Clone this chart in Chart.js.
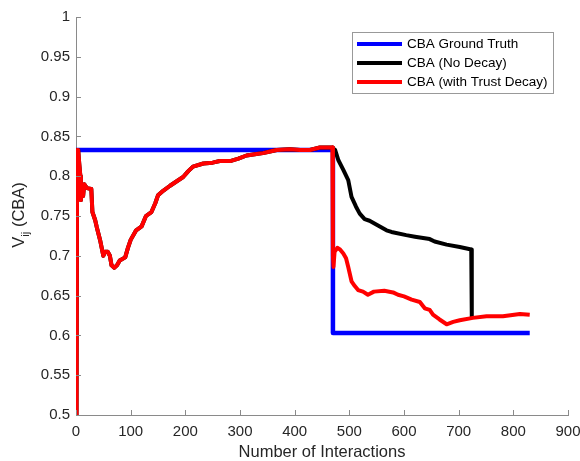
<!DOCTYPE html>
<html>
<head>
<meta charset="utf-8">
<script src="https://cdn.jsdelivr.net/npm/chart.js@4/dist/chart.umd.min.js"></script>
<style>
  html, body { margin: 0; padding: 0; background: #fff; }
</style>
</head>
<body>
<canvas id="myChart" width="580" height="461"></canvas>
<script>
const seriesNames = ['CBA Ground Truth', 'CBA (No Decay)', 'CBA (with Trust Decay)'];

// ground truth
const truthX = [0, 470, 470, 830];
const truthY = [0.833, 0.833, 0.603, 0.603];

// with trust decay
const decayX = [1, 2, 4, 6, 8, 9, 11, 13, 15, 20, 28, 30, 35, 38, 44, 50, 53, 58, 62, 65, 70, 75, 80, 90, 95,
  100, 110, 120, 128, 138, 145, 150, 160, 172, 185, 196, 205, 214, 233, 250, 263, 282, 297, 312, 330, 342,
  355, 367, 391, 410, 428, 446, 467, 469,
  470, 471, 473, 478, 483, 489, 494, 498, 504, 510, 516, 525, 534, 545, 564, 580, 589, 600, 614, 629, 638,
  647, 653, 665, 678, 690, 702, 726, 751, 781, 812, 830];
const decayY = [0.5, 0.833, 0.833, 0.815, 0.80, 0.77, 0.79, 0.775, 0.79, 0.785, 0.784, 0.755, 0.745, 0.736, 0.72, 0.70, 0.705, 0.705, 0.70, 0.688, 0.685, 0.688, 0.694, 0.698, 0.71,
  0.72, 0.732, 0.737, 0.75, 0.755, 0.766, 0.776, 0.782, 0.788, 0.794, 0.799, 0.806, 0.812, 0.816, 0.817, 0.819, 0.819, 0.822, 0.826, 0.828, 0.829,
  0.831, 0.833, 0.834, 0.833, 0.833, 0.836, 0.836, 0.836,
  0.70, 0.686, 0.705, 0.71, 0.708, 0.703, 0.697, 0.686, 0.668, 0.662, 0.657, 0.655, 0.651, 0.655, 0.656, 0.654, 0.651, 0.649, 0.645, 0.642, 0.634,
  0.632, 0.626, 0.62, 0.614, 0.617, 0.619, 0.622, 0.624, 0.624, 0.627, 0.626];

// no decay: same as above until the change, then its own tail
const noDecayTailX = [470, 474, 480, 489, 498, 504, 512, 519, 528, 537, 550, 568, 577, 604, 620, 647, 656, 678, 702, 723, 724];
const noDecayTailY = [0.835, 0.833, 0.82, 0.808, 0.795, 0.774, 0.762, 0.753, 0.746, 0.744, 0.739, 0.732, 0.73, 0.726, 0.724, 0.721, 0.718, 0.714, 0.711, 0.708, 0.623];

const xMin = 0, xMax = 900, xStep = 100;
const yMin = 0.5, yMax = 1, yStep = 0.05;

const FONT = "'Liberation Sans', Arial, Helvetica, sans-serif";
const axisColor = '#8a8a8a';
const textColor = '#262626';

function toPoints(xs, ys) {
  const pts = [];
  for (let i = 0; i < xs.length; i++) {
    pts.push({ x: xs[i], y: ys[i] });
  }
  return pts;
}

const headCount = decayX.indexOf(470);
const noDecayX = decayX.slice(0, headCount).concat(noDecayTailX);
const noDecayY = decayY.slice(0, headCount).concat(noDecayTailY);

const extras = {
  id: 'extras',
  afterDraw(chart) {
    const ctx = chart.ctx;
    const a = chart.chartArea;
    const xs = chart.scales.x;
    const ys = chart.scales.y;
    ctx.save();

    // tick marks pointing into the plot
    ctx.strokeStyle = axisColor;
    ctx.lineWidth = 1;
    ctx.beginPath();
    xs.ticks.forEach(t => {
      const p = Math.round(xs.getPixelForValue(t.value)) + 0.5;
      ctx.moveTo(p, a.bottom);
      ctx.lineTo(p, a.bottom - 5);
    });
    ys.ticks.forEach(t => {
      const p = Math.round(ys.getPixelForValue(t.value)) + 0.5;
      ctx.moveTo(a.left, p);
      ctx.lineTo(a.left + 5, p);
    });
    ctx.stroke();

    // x title
    ctx.fillStyle = textColor;
    ctx.font = '16.5px ' + FONT;
    ctx.textAlign = 'center';
    ctx.textBaseline = 'middle';
    ctx.fillText('Number of Interactions', (a.left + a.right) / 2, 452);

    // y title with subscript
    ctx.translate(24, (a.top + a.bottom) / 2 - 1);
    ctx.rotate(-Math.PI / 2);
    ctx.textAlign = 'left';
    ctx.textBaseline = 'alphabetic';
    ctx.font = '16.5px ' + FONT;
    const w1 = ctx.measureText('V').width;
    const w3 = ctx.measureText(' (CBA)').width;
    ctx.font = '11.5px ' + FONT;
    const w2 = ctx.measureText('ij').width;
    let sx = -(w1 + w2 + w3) / 2;
    ctx.font = '16.5px ' + FONT;
    ctx.fillText('V', sx, 0);
    ctx.font = '11.5px ' + FONT;
    ctx.fillText('ij', sx + w1, 5);
    ctx.font = '16.5px ' + FONT;
    ctx.fillText(' (CBA)', sx + w1 + w2, 0);
    ctx.setTransform(1, 0, 0, 1, 0, 0);

    // legend box inside the plot
    const bx = 352, by = 32, bw = 201, bh = 61;
    ctx.fillStyle = '#fff';
    ctx.fillRect(bx, by, bw, bh);
    ctx.strokeStyle = '#999';
    ctx.lineWidth = 1;
    ctx.strokeRect(bx + 0.5, by + 0.5, bw, bh);
    ctx.font = '13.5px ' + FONT;
    ctx.textAlign = 'left';
    ctx.textBaseline = 'middle';
    chart.data.datasets.forEach((ds, i) => {
      const yy = by + 12 + i * 19;
      ctx.strokeStyle = ds.borderColor;
      ctx.lineWidth = 4;
      ctx.beginPath();
      ctx.moveTo(bx + 5, yy);
      ctx.lineTo(bx + 50, yy);
      ctx.stroke();
      ctx.fillStyle = '#000';
      ctx.fillText(ds.label, bx + 55, yy + 0.5);
    });

    ctx.restore();
  }
};

const ctx = document.getElementById('myChart');

new Chart(ctx, {
  type: 'line',
  data: {
    datasets: [{
      label: seriesNames[0],
      data: toPoints(truthX, truthY),
      borderColor: '#0000ff',
      borderWidth: 4.5,
      order: 3
    }, {
      label: seriesNames[1],
      data: toPoints(noDecayX, noDecayY),
      borderColor: '#000000',
      borderWidth: 4,
      order: 2
    }, {
      label: seriesNames[2],
      data: toPoints(decayX, decayY),
      borderColor: '#ff0000',
      borderWidth: 4,
      order: 1
    }]
  },
  options: {
    responsive: false,
    animation: false,
    elements: {
      point: { radius: 0 },
      line: { tension: 0, fill: false, borderJoinStyle: 'round' }
    },
    layout: { padding: { top: 17, right: 12, left: 0, bottom: 0 } },
    plugins: {
      legend: { display: false },
      tooltip: { enabled: false }
    },
    scales: {
      x: {
        type: 'linear',
        min: xMin,
        max: xMax,
        grid: { display: false, drawTicks: false },
        border: { display: true, color: axisColor, width: 1 },
        ticks: {
          stepSize: xStep,
          autoSkip: false,
          maxRotation: 0,
          padding: 8,
          color: textColor,
          font: { family: FONT, size: 15 }
        },
        afterFit(s) {
          s.height = 46;
          s.paddingLeft = 0;
          s.paddingRight = 0;
        }
      },
      y: {
        type: 'linear',
        min: yMin,
        max: yMax,
        grid: { display: false, drawTicks: false },
        border: { display: true, color: axisColor, width: 1 },
        ticks: {
          stepSize: yStep,
          autoSkip: false,
          padding: 6,
          color: textColor,
          font: { family: FONT, size: 15 },
          callback: v => String(Number(v.toFixed(2)))
        },
        afterFit(s) {
          s.width = 76;
          s.paddingTop = 0;
          s.paddingBottom = 0;
        }
      }
    }
  },
  plugins: [extras]
});
</script>
</body>
</html>
